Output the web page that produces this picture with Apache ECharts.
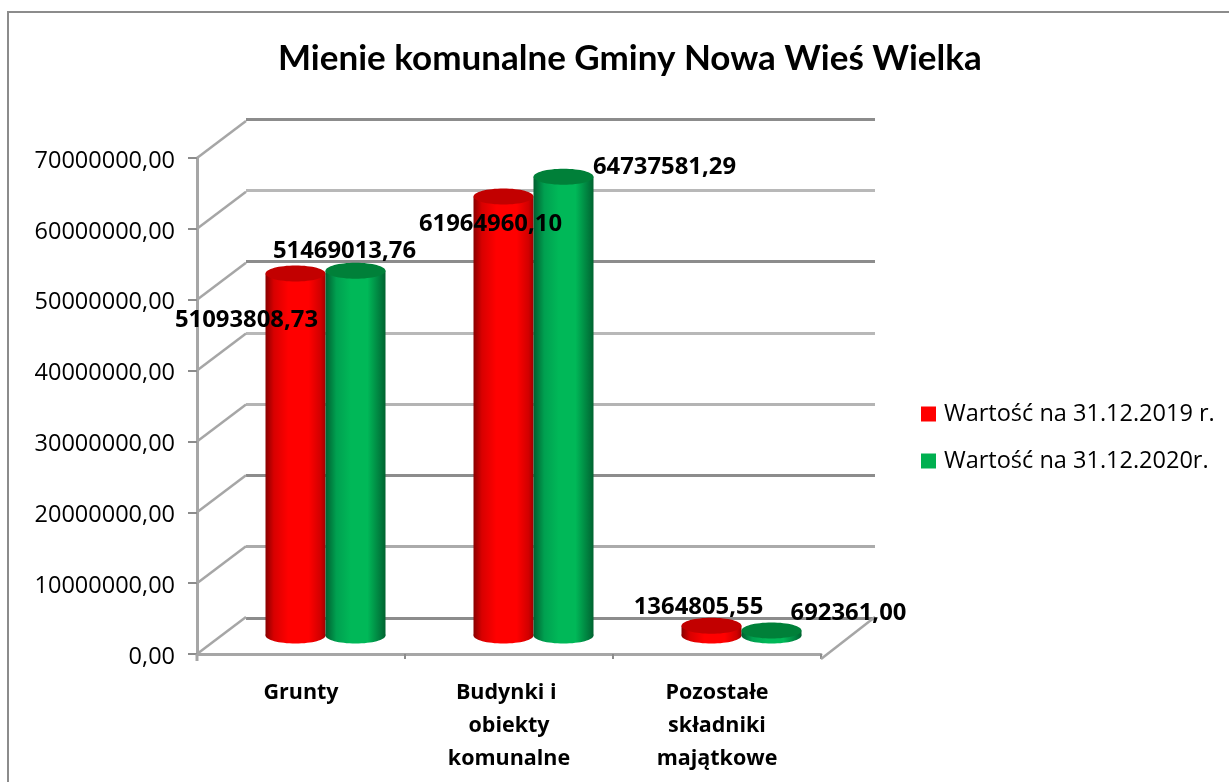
<!DOCTYPE html>
<html>
<head>
<meta charset="utf-8">
<title>Mienie komunalne</title>
<script src="https://cdn.jsdelivr.net/npm/echarts@6/dist/echarts.min.js"></script>
<style>
    html, body { margin: 0; padding: 0; background: #fff; }
    #chart { width: 1229px; height: 782px; }
</style>
</head>
<body>
<div id="chart"></div>
<script>
var chartTitle = 'Mienie komunalne Gminy Nowa Wieś Wielka';
var categories = ['Grunty', 'Budynki i \nobiekty\nkomunalne', 'Pozostałe\nskładniki\nmajątkowe'];
var seriesNames = ['Wartość na 31.12.2019 r.', 'Wartość na 31.12.2020r.'];
var values2019 = [51093808.73, 61964960.10, 1364805.55];
var values2020 = [51469013.76, 64737581.29, 692361.00];
var yTicks = [0, 10000000, 20000000, 30000000, 40000000, 50000000, 60000000, 70000000];

// przesuniecie sciany tylnej wzgledem osi
var DEPTH_X = 49, DEPTH_Y = -37;
var BAR_W = 60, RY = 8;
var wallColors = ['#8c8c8c', '#ababab', '#8c8c8c', '#b4b4b4', '#b8b8b8', '#8c8c8c', '#b8b8b8', '#8c8c8c'];

// gdzie stoi etykieta wzgledem gornej podstawy walca
var labelShift = [
    [[-49, 46], [-13, 27], [-13, -19]],
    [[-11, -20], [101, -10], [77, -18]]
];

function fmt(v) {
    return v.toFixed(2).replace('.', ',');
}

function cylGradient(stops) {
    return new echarts.graphic.LinearGradient(0, 0, 1, 0, stops);
}

var bodyFill = [
    cylGradient([
        {offset: 0, color: '#8a0000'}, {offset: 0.14, color: '#d80000'},
        {offset: 0.38, color: '#ff0000'}, {offset: 0.72, color: '#ff0000'},
        {offset: 0.92, color: '#d00000'}, {offset: 1, color: '#a00000'}
    ]),
    cylGradient([
        {offset: 0, color: '#005f30'}, {offset: 0.18, color: '#00a050'},
        {offset: 0.42, color: '#00b858'}, {offset: 0.7, color: '#00b858'},
        {offset: 0.92, color: '#007a3c'}, {offset: 1, color: '#00632f'}
    ])
];
var topFill = ['#c20000', '#008039'];

function renderCylinder(serieIdx) {
    return function (params, api) {
        var i = api.value(0);
        var val = api.value(1);
        var base = api.coord([i, 0]);
        var top = api.coord([i, val]);
        var cx = base[0] + DEPTH_X / 2 + (serieIdx === 0 ? -BAR_W / 2 : BAR_W / 2);
        var by = base[1] + DEPTH_Y / 2;
        var ty = top[1] + DEPTH_Y / 2;
        var shift = labelShift[serieIdx][i];
        return {
            type: 'group',
            children: [
                {type: 'ellipse', shape: {cx: cx, cy: by, rx: BAR_W / 2, ry: RY}, style: {fill: bodyFill[serieIdx]}},
                {type: 'rect', shape: {x: cx - BAR_W / 2, y: ty, width: BAR_W, height: by - ty}, style: {fill: bodyFill[serieIdx]}},
                {type: 'ellipse', shape: {cx: cx, cy: ty, rx: BAR_W / 2, ry: RY}, style: {fill: topFill[serieIdx]}},
                {
                    type: 'text',
                    x: cx + shift[0],
                    y: ty + shift[1] + 1,
                    scaleX: 1.06,
                    z2: 100,
                    style: {
                        text: fmt(val),
                        align: 'center',
                        verticalAlign: 'middle',
                        fill: '#000',
                        font: 'bold 22.5px "Open Sans", sans-serif'
                    }
                }
            ]
        };
    };
}

// ukosne linie od osi do tylnej sciany
function renderDepth(params, api) {
    var p = api.coord([0, api.value(0)]);
    var left = p[0] - (api.size([1, 0])[0] / 2);
    return {
        type: 'line',
        shape: {x1: left, y1: p[1], x2: left + DEPTH_X, y2: p[1] + DEPTH_Y},
        style: {stroke: '#a6a6a6', lineWidth: 2.5}
    };
}

function renderFloorEdge(params, api) {
    var p = api.coord([2, 0]);
    var band = api.size([1, 0])[0];
    var right = p[0] + band / 2;
    var left = p[0] - band * 2.5;
    return {
        type: 'group',
        children: [
            {type: 'line', shape: {x1: right, y1: p[1] + 5, x2: right + DEPTH_X + 5, y2: p[1] + DEPTH_Y}, style: {stroke: '#a6a6a6', lineWidth: 2.5}},
            {type: 'line', shape: {x1: left, y1: p[1], x2: left, y2: p[1] + 7}, style: {stroke: '#a6a6a6', lineWidth: 3}}
        ]
    };
}

var option = {
    animation: false,
    backgroundColor: '#fff',
    title: {
        text: chartTitle,
        left: 273,
        top: 36,
        textStyle: {color: '#000', fontFamily: 'Lato', fontWeight: 'bold', fontSize: 35}
    },
    legend: {
        orient: 'vertical',
        left: 916,
        top: 397,
        itemWidth: 15,
        itemHeight: 15,
        itemGap: 23,
        icon: 'rect',
        data: seriesNames,
        textStyle: {color: '#000', fontFamily: 'Open Sans', fontSize: 23.5, padding: [0, 0, 0, 3]}
    },
    // tylko lewa i gorna krawedz ramki
    graphic: [{
        type: 'polyline',
        silent: true,
        z: -10,
        shape: {points: [[8, 782], [8, 12], [1229, 12]]},
        style: {fill: 'none', stroke: '#8c8c8c', lineWidth: 2}
    }],
    grid: [
        {left: 197, top: 158, width: 624, height: 496},
        {left: 246, top: 119, width: 629, height: 499}
    ],
    xAxis: [
        {
            type: 'category',
            gridIndex: 0,
            data: categories,
            offset: 5,
            axisLine: {lineStyle: {color: '#a6a6a6', width: 3}},
            axisTick: {show: true, length: 5, lineStyle: {color: '#8c8c8c', width: 2}},
            axisLabel: {
                color: '#000',
                fontFamily: 'Open Sans',
                fontWeight: 'bold',
                fontSize: 21.5,
                lineHeight: 33,
                margin: 17
            }
        },
        {type: 'category', gridIndex: 1, show: false, data: categories}
    ],
    yAxis: [
        {
            type: 'value',
            gridIndex: 0,
            min: 0,
            max: 70000000,
            interval: 10000000,
            axisLine: {show: true, lineStyle: {color: '#a6a6a6', width: 3}},
            axisTick: {show: true, length: 9, lineStyle: {color: '#8c8c8c', width: 2}},
            splitLine: {show: false},
            axisLabel: {
                color: '#000',
                fontFamily: 'Open Sans',
                fontSize: 23.5,
                margin: 22,
                verticalAlign: 'top',
                lineHeight: 6,
                formatter: fmt
            }
        },
        {
            type: 'value',
            gridIndex: 1,
            min: 0,
            max: 70000000,
            interval: 10000000,
            axisLine: {show: false},
            axisTick: {show: false},
            axisLabel: {show: false},
            splitLine: {show: true, lineStyle: {color: wallColors, width: 3}}
        }
    ],
    series: [
        {
            type: 'custom',
            name: 'depth',
            xAxisIndex: 0,
            yAxisIndex: 0,
            silent: true,
            encode: {y: 0},
            data: yTicks,
            renderItem: renderDepth
        },
        {
            type: 'custom',
            name: 'floor',
            xAxisIndex: 0,
            yAxisIndex: 0,
            silent: true,
            data: [0],
            renderItem: renderFloorEdge
        },
        {
            type: 'custom',
            name: seriesNames[0],
            xAxisIndex: 0,
            yAxisIndex: 0,
            itemStyle: {color: '#ff0000'},
            encode: {x: 0, y: 1},
            data: values2019.map(function (v, i) { return [i, v]; }),
            renderItem: renderCylinder(0)
        },
        {
            type: 'custom',
            name: seriesNames[1],
            xAxisIndex: 0,
            yAxisIndex: 0,
            itemStyle: {color: '#00b050'},
            encode: {x: 0, y: 1},
            data: values2020.map(function (v, i) { return [i, v]; }),
            renderItem: renderCylinder(1)
        }
    ]
};

var chart = echarts.init(document.getElementById('chart'));
chart.setOption(option);
</script>
</body>
</html>
